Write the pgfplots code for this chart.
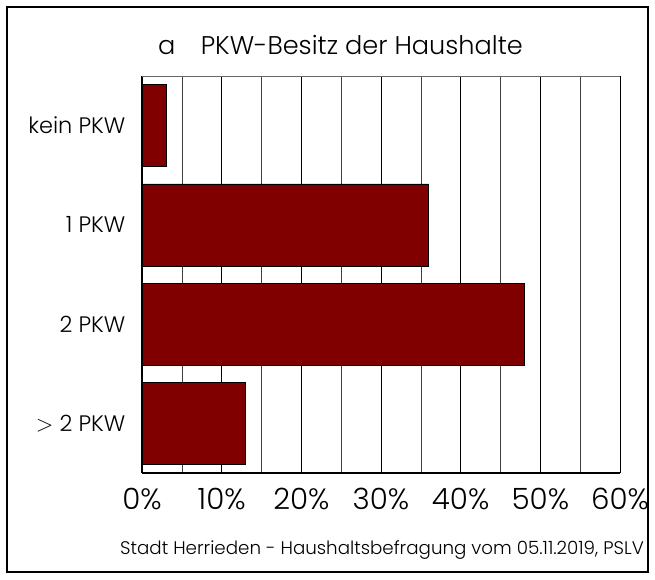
\documentclass[border=0pt]{standalone}
\usepackage{pgfplots}
\pgfplotsset{compat=1.18}
\usepackage{fontspec}
\setmainfont{Poppins Light}
\definecolor{barred}{HTML}{800000}
\begin{document}
\begin{tikzpicture}
\useasboundingbox (0,0) rectangle (491.25pt,434.25pt);
\draw[black, line width=0.9pt] (5.25pt,5.25pt) rectangle (486pt,429pt);
\node[font=\fontsize{19.2}{23}\selectfont] at (255.4pt,400.5pt) {a\hspace{19pt}PKW-Besitz der Haushalte};
\node[font=\fontsize{13.7}{16}\selectfont] at (286.5pt,21.5pt) {Stadt Herrieden - Haushaltsbefragung vom 05.11.2019, PSLV};
\begin{axis}[
  at={(106.5pt,79.5pt)}, anchor=south west,
  scale only axis, width=358.5pt, height=297.75pt,
  xbar, bar width=61.5pt,
  xmin=0, xmax=60, ymin=-0.5, ymax=3.5, y dir=reverse,
  ytick={0,1,2,3},
  yticklabels={kein PKW,1 PKW,2 PKW,{$>$ 2 PKW}},
  xtick={0,10,...,60},
  xticklabels={0\%,10\%,20\%,30\%,40\%,50\%,60\%},
  minor xtick={5,15,...,55},
  xmajorgrids, xminorgrids,
  major grid style={black, line width=0.5pt},
  minor grid style={black!75, line width=0.5pt},
  major tick length=0pt, minor tick length=0pt,
  axis lines=left, axis line style={-, black, line width=1.4pt},
  xticklabel style={font=\fontsize{22}{24}\selectfont, yshift=-8pt},
  yticklabel style={font=\fontsize{16.8}{19}\selectfont, xshift=-9pt},
  /pgf/number format/assume math mode=true,
  clip=false,
]
\addplot[fill=barred, draw=black, line width=0.5pt] coordinates {(3,0) (36,1) (48,2) (13,3)};
\draw[black!60, line width=0.6pt] (rel axis cs:0,1) -- (rel axis cs:1,1);
\end{axis}
\end{tikzpicture}
\end{document}
